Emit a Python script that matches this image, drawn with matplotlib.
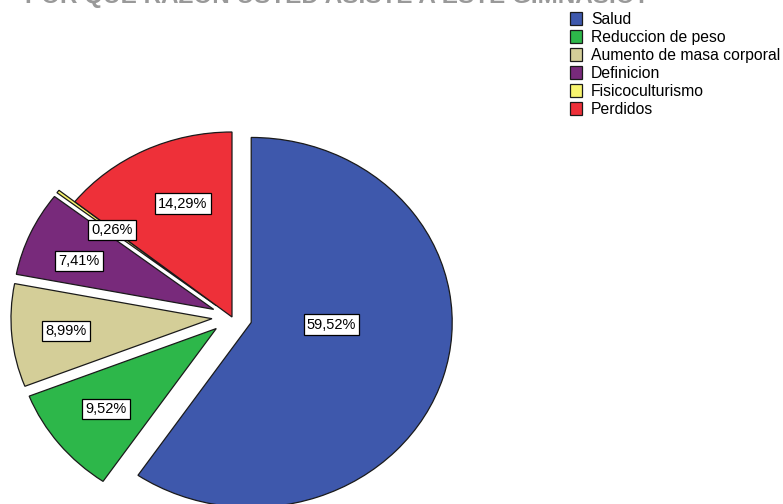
import numpy as np
import matplotlib
matplotlib.use("Agg")
import matplotlib.pyplot as plt
from matplotlib.patches import Patch

plt.rcParams["font.family"] = ["Liberation Sans", "DejaVu Sans"]

title = "POR QUE RAZON USTED ASISTE A ESTE GIMNASIO?"
categories = ["Salud", "Reduccion de peso", "Aumento de masa corporal",
              "Definicion", "Fisicoculturismo", "Perdidos"]
percents = [59.52, 9.52, 8.99, 7.41, 0.26, 14.29]
colors = ["#3E58AC", "#2DB74A", "#D4CE98", "#782A7B", "#F8F46E", "#EE3039"]
explode = [0.1, 0.1, 0.1, 0.1, 0.1, 0.0]

# label placement (distance from wedge apex, angular tweak in degrees)
label_r = [0.40, 0.70, 0.73, 0.72, 0.66, 0.66]
label_shift = [15.5, 0, 0, 3, 0, -4]

fig = plt.figure(figsize=(7.83, 5.04), dpi=100)
W, H = 783, 504
cx, cy = 232, 317      # pie centre in pixels (from top)
rx, ry = 201, 185      # radius in pixels (slightly stretched)
lim = 1.2
ax = fig.add_axes([(cx - lim * rx) / W, (H - cy - lim * ry) / H,
                   2 * lim * rx / W, 2 * lim * ry / H])

wedges, _ = ax.pie(percents, colors=colors, explode=explode,
                   startangle=90, counterclock=False,
                   wedgeprops=dict(edgecolor="#1a1a1a", linewidth=0.9))
ax.set_aspect("auto")
ax.set_xlim(-lim, lim)
ax.set_ylim(-lim, lim)
ax.axis("off")

for w, p, r, s in zip(wedges, percents, label_r, label_shift):
    ang = np.deg2rad((w.theta1 + w.theta2) / 2 + s)
    x0, y0 = w.center
    ax.text(x0 + r * np.cos(ang), y0 + r * np.sin(ang),
            f"{p:.2f}%".replace(".", ","), ha="center", va="center",
            fontsize=10.5, color="black",
            bbox=dict(boxstyle="square,pad=0.22", fc="white", ec="black", lw=0.9))

handles = [Patch(facecolor=c, edgecolor="#1a1a1a", linewidth=0.9) for c in colors]
fig.legend(handles, categories, loc="upper left",
           bbox_to_anchor=(570 / W, 1 - 12 / H), frameon=False,
           fontsize=11.3, handlelength=0.78, handleheight=0.85,
           handletextpad=0.55, labelspacing=0.19, borderaxespad=0, borderpad=0)

fig.text(25 / W, 1 - 3 / H, title, ha="left", va="baseline",
         fontsize=17.5, fontweight="bold", color="#999999")

fig.savefig("out.png", dpi=100)
